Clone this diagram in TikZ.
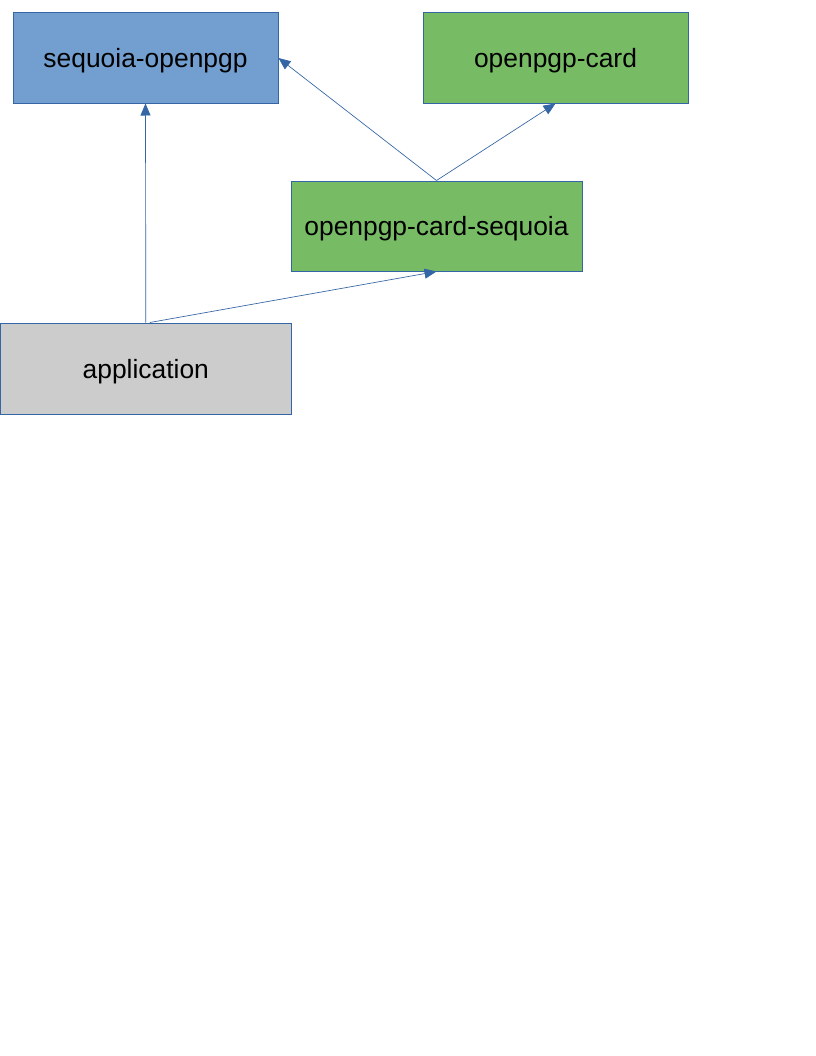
\documentclass[tikz,border=0pt]{standalone}
\usepackage{fontspec}
\setmainfont{Liberation Sans}
\usetikzlibrary{arrows.meta}
\definecolor{bord}{HTML}{3465A4}
\definecolor{bluefill}{HTML}{729FCF}
\definecolor{greenfill}{HTML}{77BC65}
\definecolor{grayfill}{HTML}{CCCCCC}
\begin{document}
\begin{tikzpicture}[x=0.75pt,y=-0.75pt,
  box/.style={draw=bord,line width=0.75pt,rectangle,inner sep=0pt,minimum height=67.5pt,text depth=0pt,font=\fontsize{19.8}{23}\selectfont},
  conn/.style={draw=bord,line width=0.5pt,-{Triangle[length=9pt,width=7.5pt]}}]
\useasboundingbox (0,0) rectangle (816,1056);
\fill[white] (0,0) rectangle (816,1056);
\node[box,fill=bluefill,minimum width=198.75pt] (seq) at (145.5,58) {sequoia-openpgp};
\node[box,fill=greenfill,minimum width=198.75pt] (card) at (555.5,58) {openpgp-card};
\node[box,fill=greenfill,minimum width=218.25pt] (cs) at (436.5,226) {openpgp-card-sequoia};
\node[box,fill=grayfill,minimum width=218.25pt,minimum height=68.25pt] (app) at (145.8,368.5) {application};
\draw[conn] (app.north) -- (seq.south);
\draw[conn] ([xshift=3pt]app.north) -- (cs.south);
\draw[conn] (cs.north) -- (seq.east);
\draw[conn] (cs.north) -- (card.south);
\end{tikzpicture}
\end{document}
